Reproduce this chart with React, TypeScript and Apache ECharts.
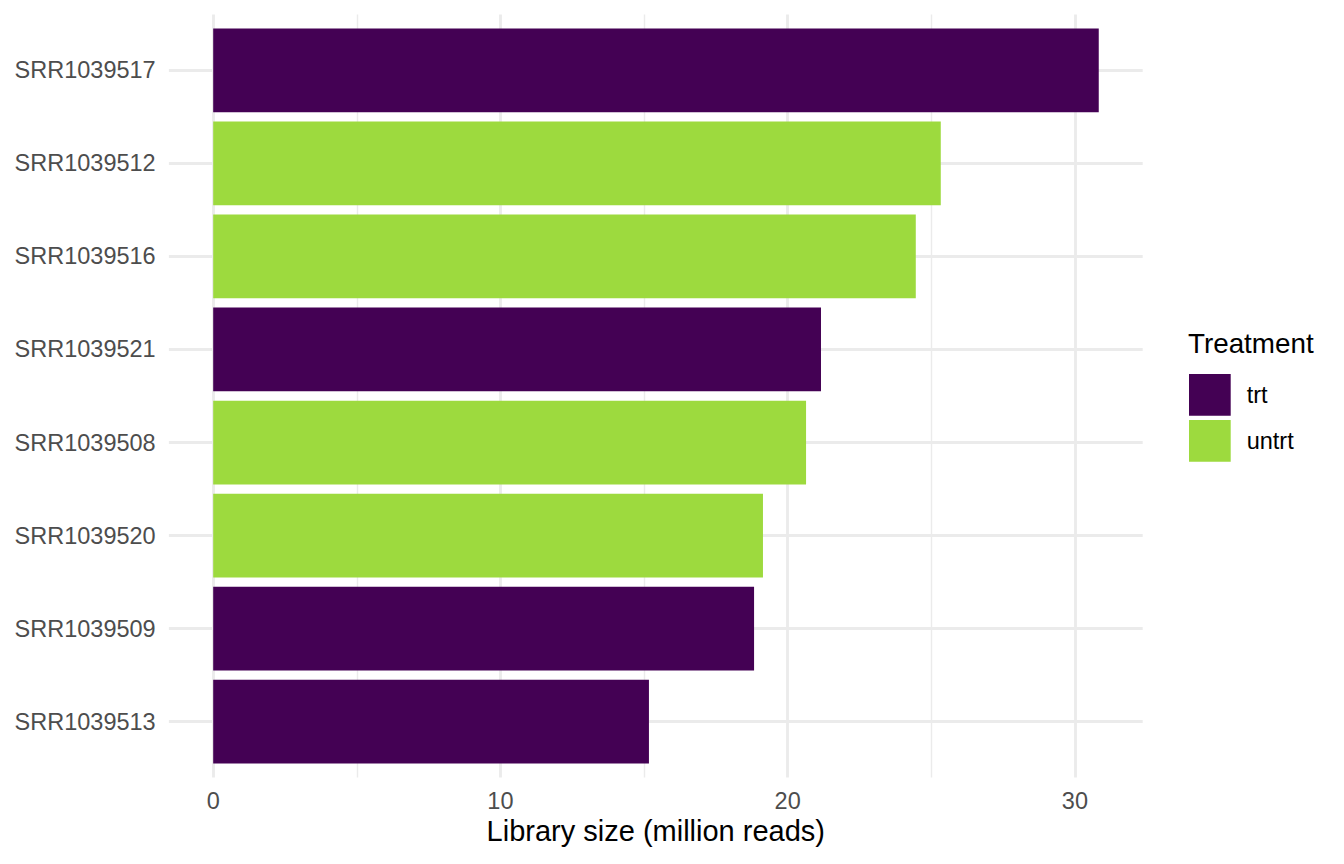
import React, { useEffect, useRef } from "react";
import * as echarts from "echarts";

const samples = [
  "SRR1039517",
  "SRR1039512",
  "SRR1039516",
  "SRR1039521",
  "SRR1039508",
  "SRR1039520",
  "SRR1039509",
  "SRR1039513",
];
const librarySize = [30.83, 25.33, 24.46, 21.16, 20.64, 19.14, 18.83, 15.17];
const treatment = ["trt", "untrt", "untrt", "trt", "untrt", "untrt", "trt", "trt"];
const levels = ["trt", "untrt"];
const levelColors = ["#440154", "#9DDA3E"];
const xTitle = "Library size (million reads)";
const legendTitle = "Treatment";

const FONT = "'Liberation Sans', Arial, sans-serif";
const GRID_COLOR = "#EBEBEB";
const MAJOR_W = 2.85;
const MINOR_W = 1.42;

export default function App() {
  const ref = useRef<HTMLDivElement>(null);

  useEffect(() => {
    if (!ref.current) return;
    const chart = echarts.init(ref.current, undefined, { renderer: "svg" });

    const xMax = 32.36;
    const panelLeft = 213.2;
    const panelRight = 1142.7;
    const outerLeft = 168.9;
    const bgTop = 14.5;
    const bgBottom = 777.6;
    const mainTop = 23.8;
    const mainBottom = 768.2;

    const series = levels.map((lv, k) => ({
      name: lv,
      type: "bar",
      stack: "all",
      xAxisIndex: 1,
      yAxisIndex: 1,
      barWidth: "90%",
      itemStyle: { color: levelColors[k] },
      data: samples.map((_, i) => (treatment[i] === lv ? librarySize[i] : "-")),
    }));

    const option: any = {
      animation: false,
      backgroundColor: "#FFFFFF",
      textStyle: { fontFamily: FONT },
      grid: [
        {
          left: panelLeft,
          right: 1344 - panelRight,
          top: bgTop,
          bottom: 864 - bgBottom,
          containLabel: false,
        },
        {
          left: panelLeft,
          right: 1344 - panelRight,
          top: mainTop,
          bottom: 864 - mainBottom,
          containLabel: false,
        },
      ],
      xAxis: [
        {
          gridIndex: 0,
          type: "value",
          min: 0,
          max: xMax,
          interval: 10,
          axisLine: { show: false },
          axisTick: { show: false },
          minorTick: { show: false, splitNumber: 2 },
          axisLabel: {
            show: true,
            showMaxLabel: false,
            margin: 11,
            fontSize: 23.5,
            color: "#4D4D4D",
            fontFamily: FONT,
            formatter: (v: number) => (v % 10 === 0 ? String(v) : ""),
          },
          splitLine: {
            show: true,
            showMaxLine: false,
            lineStyle: { color: GRID_COLOR, width: MAJOR_W },
          },
          minorSplitLine: {
            show: true,
            lineStyle: { color: GRID_COLOR, width: MINOR_W },
          },
        },
        {
          gridIndex: 1,
          type: "value",
          min: 0,
          max: xMax,
          show: false,
        },
      ],
      yAxis: [
        {
          gridIndex: 0,
          type: "value",
          min: 0,
          max: 1,
          show: false,
        },
        {
          gridIndex: 1,
          type: "category",
          position: "left",
          data: samples,
          inverse: true,
          axisLine: { show: false },
          axisTick: {
            show: true,
            alignWithLabel: true,
            inside: false,
            length: panelLeft - outerLeft,
            lineStyle: { color: GRID_COLOR, width: MAJOR_W },
          },
          axisLabel: {
            margin: 57.5,
            fontSize: 23.5,
            color: "#4D4D4D",
            fontFamily: FONT,
          },
          splitLine: { show: false },
        },
        {
          gridIndex: 1,
          type: "category",
          position: "left",
          data: samples,
          inverse: true,
          axisLine: { show: false },
          axisLabel: { show: false },
          axisTick: {
            show: true,
            alignWithLabel: true,
            inside: true,
            length: panelRight - panelLeft,
            lineStyle: { color: GRID_COLOR, width: MAJOR_W },
          },
          splitLine: { show: false },
        },
      ],
      legend: {
        data: levels,
        orient: "vertical",
        left: 1189,
        top: 374,
        padding: 0,
        itemWidth: 41.7,
        itemHeight: 41.7,
        itemGap: 4.4,
        icon: "rect",
        selectedMode: false,
        itemStyle: { borderWidth: 0 },
        textStyle: {
          fontSize: 23.5,
          color: "#000000",
          fontFamily: FONT,
          padding: [0, 0, 0, 11],
        },
      },
      graphic: [
        {
          type: "text",
          x: (outerLeft + panelRight) / 2,
          y: 831,
          style: {
            text: xTitle,
            fontSize: 29,
            fontFamily: FONT,
            fill: "#000000",
            textAlign: "center",
            textVerticalAlign: "middle",
          },
        },
        {
          type: "text",
          x: 1188,
          y: 343,
          style: {
            text: legendTitle,
            fontSize: 27.8,
            fontFamily: FONT,
            fill: "#000000",
            textAlign: "left",
            textVerticalAlign: "middle",
          },
        },
      ],
      series,
    };

    chart.setOption(option);
    return () => chart.dispose();
  }, []);

  return (
    <div
      ref={ref}
      style={{ position: "absolute", left: 0, top: 0, width: 1344, height: 864 }}
    />
  );
}
